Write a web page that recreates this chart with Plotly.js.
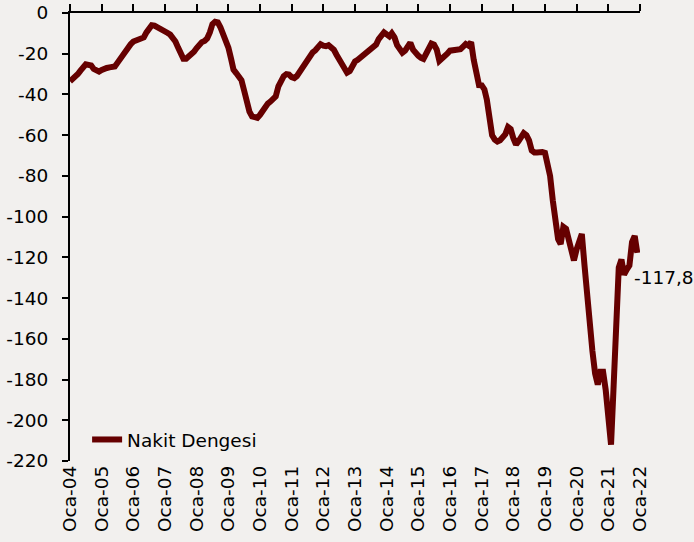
<!DOCTYPE html>
<html>
<head>
<meta charset="utf-8">
<script src="https://cdn.plot.ly/plotly-3.0.1.min.js"></script>
<style>
html,body{margin:0;padding:0;background:#f2f0ee;}
#chart{width:694px;height:542px;}
</style>
</head>
<body>
<div id="chart"></div>
<script>
const seriesName = 'Nakit Dengesi';
const startYear = 2004;

// Monthly values (Jan..Dec)
const v2004 = [-33.5, -32.5, -31.5, -30, -28.3, -26.5, -25.2, -25.5, -25.8, -27.5, -28.5, -28.8];
const v2005 = [-28, -27.2, -27, -26.7, -26.6, -26.3, -24.5, -22.5, -20.3, -18.5, -16.5, -15.3];
const v2006 = [-14, -13.5, -13.3, -13.2, -12, -9.5, -7.5, -6, -6.2, -6.8, -7.2, -7.8];
const v2007 = [-9, -9.8, -10.6, -12, -14, -17, -20.5, -22.5, -22.5, -21.6, -20.5, -19];
const v2008 = [-17.2, -15.3, -14.3, -13.7, -12.5, -9.5, -5.5, -4.3, -4.6, -7, -10, -13];
const v2009 = [-17, -22.5, -27.8, -29.5, -31, -33, -38, -43.5, -48.5, -50.8, -51.5, -51.5];
const v2010 = [-50, -48, -46, -44.5, -43.5, -42.5, -41, -36, -33, -31, -30, -30.2];
const v2011 = [-31.5, -32, -31, -29, -26.5, -24, -22, -20.5, -19.3, -18.3, -16.5, -15.3];
const v2012 = [-16, -16.3, -15.8, -16.5, -18, -20.5, -23, -25.5, -27.5, -29.3, -28.5, -26];
const v2013 = [-23.8, -23, -22, -20.8, -19.5, -18.8, -17.8, -17, -15.5, -12.8, -10.8, -9.5];
const v2014 = [-10.5, -11.5, -10, -12, -15.8, -18.3, -19.5, -18.5, -17, -14.6, -18, -20];
const v2015 = [-21, -22, -22.5, -20, -17, -15, -15.5, -18, -23.5, -22.5, -21.5, -20];
const v2016 = [-18.5, -18.2, -18.2, -18.2, -17.8, -16.5, -15.2, -16, -14.3, -23, -28.5, -35.4];
const v2017 = [-35.5, -37.5, -42.5, -52.6, -60, -62.2, -63.1, -62.5, -61, -59.5, -56, -57];
const v2018 = [-61.5, -64.6, -63, -60.8, -59, -60, -62.5, -67.5, -68.5, -68.5, -68.2, -68.3];
const v2019 = [-68.7, -74, -80, -92, -103.5, -111, -113.5, -105, -106, -111, -117, -121.5];
const v2020 = [-116, -111, -108.5, -124, -141, -155, -166, -177, -182.5, -176.2, -176.2, -185];
const v2021 = [-199, -212, -185, -150, -125, -121, -128.5, -126, -124, -112.5, -109.5, -117.8];

const tickLabels = ['Oca-04','Oca-05','Oca-06','Oca-07','Oca-08','Oca-09','Oca-10','Oca-11','Oca-12','Oca-13','Oca-14','Oca-15','Oca-16','Oca-17','Oca-18','Oca-19','Oca-20','Oca-21','Oca-22'];
const tickYears = [2004,2005,2006,2007,2008,2009,2010,2011,2012,2013,2014,2015,2016,2017,2018,2019,2020,2021,2022];
const yTickVals = [0,-20,-40,-60,-80,-100,-120,-140,-160,-180,-200,-220];
const yTickLabels = ['0','-20','-40','-60','-80','-100','-120','-140','-160','-180','-200','-220'];

const yearly = [v2004,v2005,v2006,v2007,v2008,v2009,v2010,v2011,v2012,v2013,v2014,v2015,v2016,v2017,v2018,v2019,v2020,v2021];
const values = [].concat(...yearly);
const dates = [];
yearly.forEach((arr, yi) => {
  arr.forEach((_, mi) => {
    const mm = String(mi + 1).padStart(2, '0');
    dates.push((startYear + yi) + '-' + mm + '-01');
  });
});
const tickDates = tickYears.map(y => y + '-01-01');
const xRange = [tickDates[0], tickDates[tickDates.length - 1]];

const FONT = 'DejaVu Sans, Verdana, sans-serif';
const FS = 18.5;
const BG = '#f2f0ee';
const LINE = '#660000';

const lastVal = values[values.length - 1];
const lastDate = dates[dates.length - 1];

const traces = [
  {
    x: dates, y: values, type: 'scatter', mode: 'lines', name: seriesName,
    line: {color: LINE, width: 6},
    xaxis: 'x', yaxis: 'y', hoverinfo: 'skip'
  },
  {
    x: dates, y: values, type: 'scatter', mode: 'lines', showlegend: false,
    line: {color: 'rgba(0,0,0,0)', width: 0},
    xaxis: 'x2', yaxis: 'y', hoverinfo: 'skip'
  }
];

const layout = {
  width: 694, height: 542,
  margin: {l: 70, r: 54, t: 13, b: 81, pad: 0},
  paper_bgcolor: BG, plot_bgcolor: BG,
  font: {family: FONT, size: FS, color: '#000'},
  showlegend: true,
  legend: {
    x: 0.03, y: 0.047, xanchor: 'left', yanchor: 'middle',
    bgcolor: 'rgba(0,0,0,0)', borderwidth: 0,
    font: {family: FONT, size: FS, color: '#000'}
  },
  xaxis: {
    type: 'date', range: xRange,
    tickvals: tickDates, ticktext: tickLabels, tickangle: -90,
    showline: false, ticks: '', showgrid: false, zeroline: false,
    tickfont: {family: FONT, size: FS, color: '#000'}
  },
  xaxis2: {
    type: 'date', range: xRange, overlaying: 'x', side: 'top', anchor: 'y',
    tickvals: tickDates, showticklabels: false,
    ticks: 'outside', ticklen: 7, tickwidth: 2, tickcolor: '#000',
    showline: true, linewidth: 2, linecolor: '#000',
    showgrid: false, zeroline: false
  },
  yaxis: {
    range: [-220, 0], tickvals: yTickVals, ticktext: yTickLabels,
    ticks: 'outside', ticklen: 6, tickwidth: 2, tickcolor: '#000',
    showline: true, linewidth: 2, linecolor: '#000',
    showgrid: false, zeroline: false, ticklabelstandoff: 10,
    tickfont: {family: FONT, size: FS, color: '#000'}
  },
  annotations: [{
    x: lastDate, y: lastVal, xref: 'x', yref: 'y',
    text: lastVal.toFixed(1).replace('.', ','),
    showarrow: false, xanchor: 'left', yanchor: 'middle',
    xshift: -5, yshift: -25,
    font: {family: FONT, size: FS, color: '#000'}
  }]
};

Plotly.newPlot('chart', traces, layout, {displayModeBar: false, staticPlot: true});
</script>
</body>
</html>
